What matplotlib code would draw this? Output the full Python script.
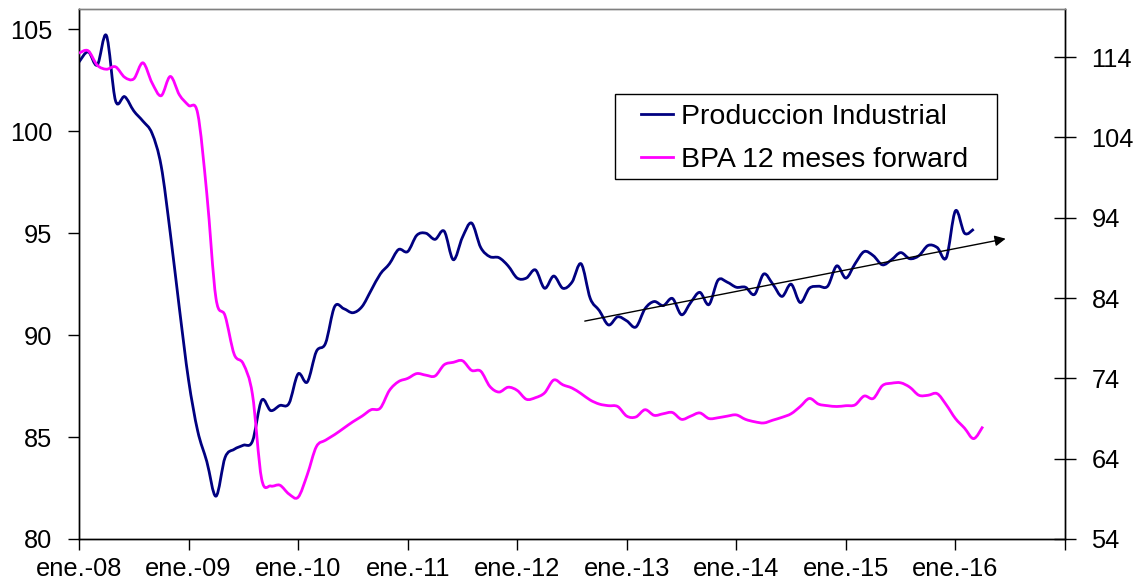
import numpy as np
import matplotlib
matplotlib.use('Agg')
import matplotlib.pyplot as plt
from matplotlib.patches import Rectangle, PathPatch
from matplotlib.path import Path
from matplotlib.lines import Line2D

plt.rcParams['font.family'] = ['Liberation Sans', 'DejaVu Sans']

# ---------------- data ----------------
tick_labels = ['ene.-08', 'ene.-09', 'ene.-10', 'ene.-11', 'ene.-12',
               'ene.-13', 'ene.-14', 'ene.-15', 'ene.-16', '']

series_names = ['Produccion Industrial', 'BPA 12 meses forward']

# monthly, starting Jan-2008 (left axis)
produccion_industrial = [
    103.4, 103.9, 103.25, 104.7, 101.5, 101.7, 101.0, 100.5, 99.9, 98.3,
    95.0, 91.3, 87.8, 85.3, 83.8, 82.1, 84.0, 84.4, 84.6, 84.8,
    86.8, 86.3, 86.55, 86.65, 88.1, 87.7, 89.2, 89.6, 91.4, 91.3,
    91.1, 91.4, 92.2, 93.0, 93.5, 94.2, 94.1, 94.9, 95.0, 94.7,
    95.1, 93.7, 94.8, 95.5, 94.3, 93.85, 93.8, 93.4, 92.8, 92.8,
    93.2, 92.3, 92.9, 92.3, 92.6, 93.5, 91.8, 91.2, 90.5, 90.9,
    90.7, 90.4, 91.3, 91.65, 91.45, 91.8, 91.0, 91.6, 92.1, 91.5,
    92.7, 92.6, 92.35, 92.35, 92.0, 93.0, 92.5, 91.9, 92.5, 91.6,
    92.3, 92.4, 92.4, 93.4, 92.8, 93.5, 94.1, 93.9, 93.45, 93.7,
    94.05, 93.75, 93.9, 94.4, 94.3, 93.8, 96.1, 95.0, 95.2]

# monthly, starting Jan-2008 (right axis)
bpa_12m_forward = [
    114.5, 114.8, 113.0, 112.5, 112.8, 111.5, 111.3, 113.3, 110.8, 109.2,
    111.6, 109.3, 108.0, 107.0, 97.0, 84.0, 81.8, 77.0, 75.8, 72.0,
    61.5, 60.6, 60.7, 59.6, 59.2, 62.0, 65.5, 66.3, 67.0, 67.8,
    68.6, 69.3, 70.1, 70.3, 72.5, 73.6, 74.0, 74.6, 74.4, 74.3,
    75.7, 76.0, 76.2, 75.0, 74.9, 73.0, 72.3, 72.9, 72.5, 71.4,
    71.6, 72.2, 73.8, 73.2, 72.8, 72.1, 71.3, 70.8, 70.6, 70.5,
    69.3, 69.2, 70.1, 69.4, 69.6, 69.75, 68.9, 69.3, 69.7, 69.0,
    69.1, 69.3, 69.45, 68.9, 68.6, 68.45, 68.8, 69.15, 69.6, 70.5,
    71.5, 70.8, 70.6, 70.5, 70.6, 70.7, 71.8, 71.5, 73.1, 73.4,
    73.45, 72.9, 71.9, 71.9, 72.1, 70.7, 69.0, 67.8, 66.5, 68.0]

left_ticks = [80, 85, 90, 95, 100, 105]
right_ticks = [54, 64, 74, 84, 94, 104, 114]


def smooth_path(x, y):
    """Excel-like smoothed line: cubic Bezier segments through every point."""
    p = np.column_stack([x, y]).astype(float)
    n = len(p)
    verts = [p[0]]
    codes = [Path.MOVETO]
    for i in range(n - 1):
        p_prev = p[i - 1] if i > 0 else p[i]
        p_next2 = p[i + 2] if i + 2 < n else p[i + 1]
        c1 = p[i] + (p[i + 1] - p_prev) / 6.0
        c2 = p[i + 1] - (p_next2 - p[i]) / 6.0
        verts += [c1, c2, p[i + 1]]
        codes += [Path.CURVE4] * 3
    return Path(verts, codes)


# ---------------- figure ----------------
W, H = 1145, 581
fig = plt.figure(figsize=(W / 100, H / 100), dpi=100)
ax = fig.add_axes([79 / W, 42 / H, 986 / W, 530 / H])
ax2 = ax.twinx()

m_pi = np.arange(len(produccion_industrial))
m_bpa = np.arange(len(bpa_12m_forward))

c_pi, c_bpa = '#000080', '#FF00FF'
lw = 2.0
ax.add_patch(PathPatch(smooth_path(m_pi, produccion_industrial), fill=False,
                       edgecolor=c_pi, lw=lw, joinstyle='round',
                       capstyle='butt', zorder=3))
ax2.add_patch(PathPatch(smooth_path(m_bpa, bpa_12m_forward), fill=False,
                        edgecolor=c_bpa, lw=lw, joinstyle='round',
                        capstyle='butt', zorder=3))
l1 = Line2D([], [], color=c_pi, lw=lw)
l2 = Line2D([], [], color=c_bpa, lw=lw)

# trend arrow
ax.annotate('', xy=(101.5, 94.73), xytext=(55.4, 90.69),
            arrowprops=dict(arrowstyle='-|>', color='black', lw=1.0,
                            mutation_scale=16, shrinkA=0, shrinkB=0),
            zorder=5)

ax.set_xlim(0, 108)
ax.set_ylim(80, 106)
ax2.set_ylim(54, 120)

ax.set_xticks(np.arange(0, 109, 12))
ax.set_xticklabels(tick_labels)
ax.set_yticks(left_ticks)
ax2.set_yticks(right_ticks)

fs = 18.3
ax.tick_params(axis='x', direction='out', length=8, width=1, pad=5,
               labelsize=fs, colors='black')
ax.tick_params(axis='y', direction='out', length=8, width=1, pad=11,
               labelsize=fs, colors='black')
ax2.tick_params(axis='y', direction='inout', length=16, width=1, pad=11,
                labelsize=fs, colors='black')

for a in (ax, ax2):
    a.spines['top'].set_color('#808080')
    a.spines['top'].set_linewidth(1.0)
    for s in ('left', 'right', 'bottom'):
        a.spines[s].set_color('black')
        a.spines[s].set_linewidth(1.0)
ax2.patch.set_visible(False)

# legend box
rect = Rectangle((0.5436, 0.679), 0.931 - 0.5436, 0.8396 - 0.679,
                 transform=ax2.transAxes, facecolor='white',
                 edgecolor='black', lw=1.0, zorder=6)
ax2.add_patch(rect)
leg = ax2.legend([l1, l2], series_names, loc='upper left',
                 bbox_to_anchor=(0.5436 + 0.018, 0.8396 - 0.003),
                 frameon=False, fontsize=20.5, handlelength=1.1,
                 handletextpad=0.3, labelspacing=0.6, borderaxespad=0,
                 borderpad=0.3)
leg.set_zorder(7)

fig.savefig('out.png', dpi=100)
